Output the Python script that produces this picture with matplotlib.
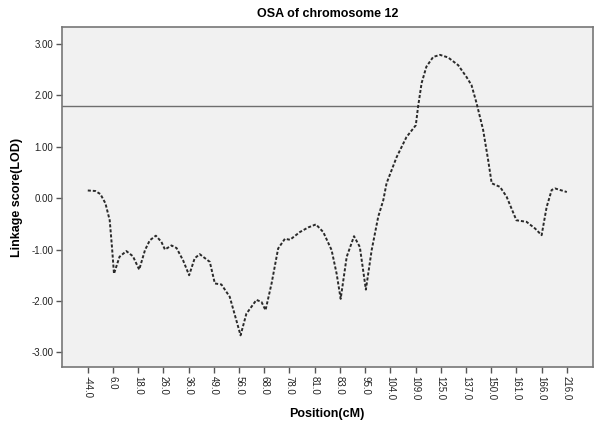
import matplotlib
matplotlib.use("Agg")
import matplotlib.pyplot as plt

plt.rcParams['font.family'] = ['Liberation Sans', 'DejaVu Sans']

# tick labels along the (categorical) position axis
tick_labels = ["-44.0", "6.0", "18.0", "26.0", "36.0", "49.0", "56.0", "68.0",
               "78.0", "81.0", "83.0", "95.0", "104.0", "109.0", "125.0",
               "137.0", "150.0", "161.0", "166.0", "216.0"]

# curve, x in tick-index units
pos = [0.0, 0.3, 0.5, 0.7, 0.87, 0.96, 1.04, 1.26, 1.53, 1.79, 2.04, 2.27,
       2.46, 2.70, 2.92, 3.06, 3.32, 3.52, 3.78, 4.02, 4.24, 4.44, 4.84,
       5.04, 5.30, 5.63, 6.06, 6.29, 6.69, 6.89, 7.05, 7.29, 7.55, 7.82,
       8.02, 8.41, 8.74, 9.05, 9.34, 9.67, 9.87, 10.03, 10.27, 10.56,
       10.79, 11.03, 11.26, 11.52, 11.72, 11.85, 12.25, 12.64, 13.01,
       13.10, 13.24, 13.43, 13.70, 13.97, 14.29, 14.69, 15.02, 15.22,
       15.42, 15.68, 15.88, 16.02, 16.35, 16.61, 17.00, 17.40, 17.74,
       18.00, 18.20, 18.40, 18.53, 19.00]
lod = [0.15, 0.14, 0.08, -0.10, -0.43, -0.95, -1.47, -1.14, -1.03, -1.13,
       -1.39, -1.01, -0.82, -0.73, -0.85, -1.00, -0.92, -0.97, -1.21, -1.50,
       -1.17, -1.09, -1.24, -1.66, -1.68, -1.92, -2.67, -2.25, -1.98, -2.02,
       -2.18, -1.66, -0.98, -0.79, -0.81, -0.66, -0.57, -0.51, -0.66, -1.01,
       -1.47, -1.96, -1.14, -0.74, -0.95, -1.78, -1.01, -0.36, -0.04, 0.29,
       0.80, 1.19, 1.42, 1.78, 2.24, 2.56, 2.75, 2.79, 2.74, 2.59, 2.36,
       2.20, 1.85, 1.33, 0.74, 0.29, 0.22, 0.03, -0.43, -0.46, -0.59, -0.72,
       -0.17, 0.16, 0.19, 0.12]

threshold = 1.8
y_ticks = [-3, -2, -1, 0, 1, 2, 3]

fig = plt.figure(figsize=(6, 4.24), dpi=100, facecolor="white")
ax = fig.add_axes([0.103, 0.134, 0.885, 0.802])
ax.set_facecolor("#F1F1F1")

ax.axhline(threshold, color="#6E6E6E", lw=1.0)
ax.plot(pos, lod, color="#2A2A2A", lw=1.4, linestyle=(0, (1.6, 1.0)))

ax.set_xlim(-1.03, 20.03)
ax.set_ylim(-3.29, 3.33)
ax.set_xticks(range(len(tick_labels)))
ax.set_xticklabels(tick_labels, rotation=270, fontsize=7)
ax.set_yticks(y_ticks)
ax.set_yticklabels([f"{v:.2f}" for v in y_ticks], fontsize=7)
ax.tick_params(length=4, width=1, color="#555555", labelcolor="#222222", pad=2)

for s in ax.spines.values():
    s.set_color("#777777")
    s.set_linewidth(1.2)

ax.set_title("OSA of chromosome 12", fontsize=9, fontweight="bold", pad=7)
ax.set_xlabel("Position(cM)", fontsize=9, fontweight="bold", labelpad=6)
ax.set_ylabel("Linkage score(LOD)", fontsize=9, fontweight="bold", labelpad=6)

fig.savefig("out.png", dpi=100)
